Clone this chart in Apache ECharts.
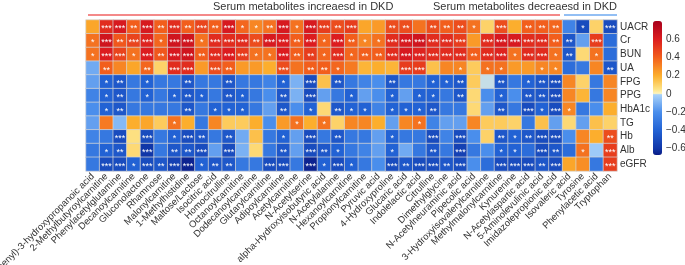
<!DOCTYPE html>
<html>
<head>
<meta charset="utf-8">
<script src="https://cdn.jsdelivr.net/npm/echarts@6/dist/echarts.min.js"></script>
</head>
<body style="margin:0">
<div id="main" style="width:685px;height:265px;"></div>
<script>
var metabolites = ['3-(3-Hydroxyphenyl)-3-hydroxypropanoic acid','2-Methylbutyroylcarnitine','Phenylacetylglutamine','Decanoylcarnitine','Gluconolactone','Rhamnose','Malonylcarnitine','1-Methylhistidine','Maltose/Lactose','Isocitric acid','Homocitrulline','Octanoylcarnitine','Dodecanoylcarnitine','Glutarylcarnitine','Adipoylcarnitine','Acetylcarnitine','N-Acetylserine','alpha-Hydroxyisobutyric acid','N-Acetylalanine','Hexanoylcarnitine','Propionylcarnitine','Pyruvic acid','4-Hydroxyproline','Glucaric acid','Indolelactic acid','Citrulline','Dimethylglycine','N-Acetylneuraminic acid','Pipecolic acid','3-Hydroxyisovalerylcarnitine','Methylmalonylcarnitine','Kynurenine','N-Acetylaspartic acid','5-Aminolevulinic acid','Imidazolepropionic acid','Isovaleric acid','Tyrosine','Phenylacetic acid','Tryptophan'];
var clinical = ['UACR','Cr','BUN','UA','FPG','PPG','HbA1c','TG','Hb','Alb','eGFR'];

// correlation coefficients, one array per clinical index
var rUACR = [0.22,0.55,0.62,0.4,0.62,0.4,0.55, 0.4,0.48,0.4,0.62,0.38,0.3,0.35, 0.62,0.35,0.62,0.5,0.45,0.5,0.22, 0.25,0.45,0.45,0.35,0.45,0.4,0.45, 0.35,0.1,0.45,0.2,0.4,0.4,0.38, -0.25,-0.5,0.1,-0.5];
var rCr   = [0.35,0.65,0.42,0.48,0.58,0.38,0.65, 0.65,0.35,0.55,0.55,0.55,0.45,0.62, 0.6,0.4,0.6,0.38,0.6,0.4,0.3, 0.35,0.55,0.62,0.65,0.55,0.55,0.5, 0.25,0.55,0.62,0.62,0.55,0.55,0.4, -0.45,-0.15,0.5,-0.35];
var rBUN  = [0.35,0.6,0.48,0.35,0.6,0.42,0.62, 0.65,0.4,0.55,0.6,0.5,0.35,0.35, 0.6,0.4,0.5,0.38,0.55,0.38,0.4, 0.4,0.55,0.62,0.58,0.55,0.55,0.55, 0.4,0.55,0.58,0.35,0.55,0.55,0.35, -0.45,0.08,0.35,-0.35];
var rUA   = [-0.12,0.4,0.3,0.22,0.38,0.1,0.55, 0.55,0.25,0.45,0.4,0.25,0.25,0.2, 0.45,0.35,0.4,0.4,0.38,0.33,0.18, 0.2,0.18,0.5,0.5,0.15,0.3,0.3, 0.12,0.35,0.35,0.25,0.25,0.3,0.3, -0.35,-0.3,0.3,-0.45];
var rFPG  = [-0.15,-0.4,-0.45,-0.3,-0.4,-0.3,-0.3, -0.45,-0.3,-0.3,-0.45,-0.3,-0.3,-0.25, -0.4,-0.1,-0.5,0.15,-0.45,-0.3,-0.25, -0.2,-0.45,-0.3,-0.3,-0.4,-0.4,-0.45, 0.12,0.0,-0.45,-0.3,-0.4,-0.45,-0.5, 0.3,0.1,-0.3,0.3];
var rPPG  = [-0.25,-0.4,-0.45,-0.3,-0.4,-0.3,-0.4, -0.45,-0.4,-0.3,-0.45,-0.4,-0.3,-0.2, -0.45,-0.1,-0.5,-0.15,-0.3,-0.4,-0.15, -0.2,-0.4,-0.15,-0.4,-0.4,-0.3,-0.45, 0.08,-0.2,-0.4,-0.2,-0.45,-0.45,-0.5, 0.3,0.18,-0.3,0.3];
var rHbA1c= [-0.2,-0.4,-0.45,-0.3,-0.3,-0.3,-0.3, -0.45,-0.3,-0.4,-0.4,-0.4,-0.3,-0.15, -0.45,-0.2,-0.4,0.08,-0.45,-0.4,-0.4, -0.25,-0.4,-0.4,-0.4,-0.45,-0.3,-0.3, 0.08,-0.15,-0.45,-0.3,-0.5,-0.4,-0.5, 0.3,-0.3,-0.2,0.2];
var rTG   = [-0.15,0.33,-0.08,0.2,0.22,0.12,0.35, 0.2,-0.3,0.3,0.12,0.12,0.2,-0.2, 0.25,0.35,0.2,0.35,0.1,0.3,0.3, 0.2,-0.15,0.3,0.35,-0.25,-0.15,-0.15, 0.3,0.12,0.12,0.1,-0.3,0.15,-0.15, 0.08,-0.15,0.15,0.1];
var rHb   = [-0.25,-0.3,-0.5,0.06,-0.5,-0.3,-0.4, -0.5,-0.45,-0.3,-0.45,-0.12,0.15,-0.3, -0.4,-0.15,-0.5,-0.3,-0.45,-0.3,-0.3, -0.15,-0.4,-0.3,-0.3,-0.5,-0.25,-0.5, -0.2,0.1,-0.45,-0.4,-0.45,-0.5,-0.5, -0.2,0.3,0.2,0.45];
var rAlb  = [-0.3,-0.4,-0.45,0.08,-0.6,-0.3,-0.45, -0.45,-0.5,-0.15,-0.5,-0.1,0.08,-0.3, -0.45,-0.15,-0.5,-0.45,-0.4,-0.3,-0.25, -0.15,-0.4,-0.12,-0.3,-0.45,-0.3,-0.55, -0.3,-0.2,-0.4,-0.4,-0.35,-0.5,-0.45, -0.35,0.35,-0.03,0.5];
var rEGFR = [-0.3,-0.5,-0.5,-0.4,-0.5,-0.45,-0.55, -0.65,-0.4,-0.45,-0.45,-0.3,-0.3,-0.5, -0.5,-0.3,-0.65,-0.4,-0.5,-0.4,-0.3, -0.2,-0.5,-0.45,-0.5,-0.5,-0.45,-0.5, -0.2,-0.35,-0.5,-0.5,-0.5,-0.45,-0.5, 0.22,0.28,-0.3,0.5];

// number of significance stars
var sUACR = [0,3,3,2,3,2,3, 2,3,2,3,1,1,2, 3,1,3,3,2,3,0, 0,2,2,0,2,2,2, 1,0,3,0,2,2,2, 0,1,0,3];
var sCr   = [1,3,2,3,3,1,3, 3,1,3,3,3,2,3, 3,2,3,1,3,2,1, 1,3,3,3,3,3,3, 0,3,3,3,3,3,2, 2,0,3,0];
var sBUN  = [1,3,3,1,3,2,3, 3,2,3,3,3,1,1, 3,2,2,1,3,1,2, 2,3,3,3,3,3,3, 2,3,3,1,3,3,1, 2,0,1,0];
var sUA   = [0,2,0,0,2,0,3, 3,0,3,2,0,0,0, 3,0,2,2,1,0,0, 0,0,3,3,0,0,1, 0,1,1,0,0,1,1, 0,0,0,2];
var sFPG  = [0,1,2,0,1,0,0, 2,0,0,2,0,0,0, 1,0,3,0,2,0,0, 0,2,0,0,1,1,2, 0,0,2,0,1,2,3, 0,0,0,0];
var sPPG  = [0,1,2,0,1,0,1, 2,1,0,2,1,0,0, 2,0,3,0,0,1,0, 0,1,0,1,1,0,2, 0,0,1,0,2,2,3, 0,0,0,0];
var sHbA1c= [0,1,2,0,0,0,0, 2,0,1,1,1,0,0, 2,0,1,0,2,1,1, 0,1,1,1,2,0,0, 0,0,2,0,3,1,3, 1,0,0,0];
var sTG   = [0,0,0,0,0,0,1, 0,0,0,0,0,0,0, 0,1,0,1,0,0,0, 0,0,0,1,0,0,0, 0,0,0,0,0,0,0, 0,0,0,0];
var sHb   = [0,0,3,0,3,0,1, 3,2,0,2,0,0,0, 1,0,3,0,2,0,0, 0,1,0,0,3,0,3, 0,0,2,1,2,3,3, 0,0,0,2];
var sAlb  = [0,1,2,0,3,0,2, 2,3,0,3,0,0,0, 2,0,3,2,1,0,0, 0,1,0,0,2,0,3, 0,0,1,1,0,3,2, 0,1,0,3];
var sEGFR = [0,3,3,1,3,2,3, 3,1,2,2,0,0,3, 3,0,3,1,3,1,0, 0,3,2,3,3,2,3, 0,0,3,3,3,2,3, 0,0,0,3];

var colorTicks = [-0.6,-0.4,-0.2,0,0.2,0.4,0.6];
var scaleMin = -0.67, scaleMax = 0.8;

var rows = [rUACR,rCr,rBUN,rUA,rFPG,rPPG,rHbA1c,rTG,rHb,rAlb,rEGFR];
var stars = [sUACR,sCr,sBUN,sUA,sFPG,sPPG,sHbA1c,sTG,sHb,sAlb,sEGFR];

var cells = [];
for (var i = 0; i < rows.length; i++) {
  for (var j = 0; j < metabolites.length; j++) {
    cells.push([j, i, rows[i][j], stars[i][j]]);
  }
}

// colour scale with a hard step at zero
var anchors = [[-0.67,'#0a1c86'],[-0.6,'#1036a8'],[-0.4,'#2262d4'],[-0.2,'#4a8eec'],[-0.001,'#acd4fa'],
               [0,'#fff6c0'],[0.05,'#fde487'],[0.2,'#fcae2c'],[0.4,'#f25e1c'],[0.6,'#dc1c1f'],[0.8,'#a8001c']];
function hex(c){return [parseInt(c.substr(1,2),16),parseInt(c.substr(3,2),16),parseInt(c.substr(5,2),16)];}
function mix(v){
  for (var k = 0; k < anchors.length-1; k++) {
    if (v <= anchors[k+1][0]) {
      var a = hex(anchors[k][1]), b = hex(anchors[k+1][1]);
      var t = (v - anchors[k][0]) / (anchors[k+1][0] - anchors[k][0]);
      t = Math.max(0, Math.min(1, t));
      return 'rgb(' + [0,1,2].map(function(n){return Math.round(a[n]+(b[n]-a[n])*t);}).join(',') + ')';
    }
  }
  return anchors[anchors.length-1][1];
}
var palette = [];
for (var p = 0; p <= 400; p++) palette.push(mix(scaleMin + (scaleMax - scaleMin) * p / 400));

var chart = echarts.init(document.getElementById('main'));
chart.setOption({
  animation: false,
  textStyle: {fontFamily: 'Liberation Sans, Arial, sans-serif'},
  title: [
    {text: 'Serum metabolites increaesd in DKD', left: 213, top: 1, padding: 0,
     textStyle: {fontSize: 11, fontWeight: 'normal', color: '#333'}},
    {text: 'Serum metabolites decreaesd in DKD', left: 433, top: 1, padding: 0,
     textStyle: {fontSize: 11, fontWeight: 'normal', color: '#333'}}
  ],
  graphic: [
    {type: 'line', shape: {x1: 88, y1: 15, x2: 560, y2: 15}, style: {stroke: '#f06262', lineWidth: 1.5}},
    {type: 'line', shape: {x1: 564, y1: 15, x2: 617, y2: 15}, style: {stroke: '#6faaf0', lineWidth: 1.5}}
  ],
  grid: [
    {left: 86, top: 20, width: 531, height: 151, containLabel: false, outerBoundsMode: 'none'},
    {left: 653, top: 21, width: 9, height: 134, containLabel: false, outerBoundsMode: 'none'}
  ],
  xAxis: [
    {type: 'category', gridIndex: 0, data: metabolites,
     axisLine: {show: false}, axisTick: {show: false}, splitLine: {show: false},
     axisLabel: {rotate: 45, interval: 0, fontSize: 9.5, color: '#333', margin: 4}},
    {type: 'value', gridIndex: 1, show: false}
  ],
  yAxis: [
    {type: 'category', gridIndex: 0, data: clinical, inverse: true, position: 'right',
     axisLine: {show: false}, axisTick: {show: false},
     axisLabel: {interval: 0, fontSize: 10, color: '#333', margin: 3}},
    {type: 'value', gridIndex: 1, min: scaleMin, max: scaleMax, position: 'right',
     axisLine: {show: false}, axisTick: {show: false}, splitLine: {show: false},
     axisLabel: {customValues: colorTicks, fontSize: 10, color: '#333', margin: 4,
       formatter: function(v){ return v < 0 ? '\u2212' + Math.abs(v) : String(v); }}}
  ],
  visualMap: {
    type: 'continuous', seriesIndex: 0, dimension: 2,
    min: scaleMin, max: scaleMax, calculable: false,
    orient: 'vertical', left: 653, top: 21, itemWidth: 9, itemHeight: 134, padding: 0,
    text: null, showLabel: false,
    inRange: {color: palette}
  },
  series: [{
    type: 'heatmap', xAxisIndex: 0, yAxisIndex: 0, data: cells,
    itemStyle: {borderColor: 'rgba(215,215,215,0.9)', borderWidth: 0.8},
    label: {show: true, color: '#fff', fontSize: 9, offset: [0, 2],
      formatter: function(p){ return '***'.slice(0, p.data[3]); }}
  }]
});
</script>
</body>
</html>
